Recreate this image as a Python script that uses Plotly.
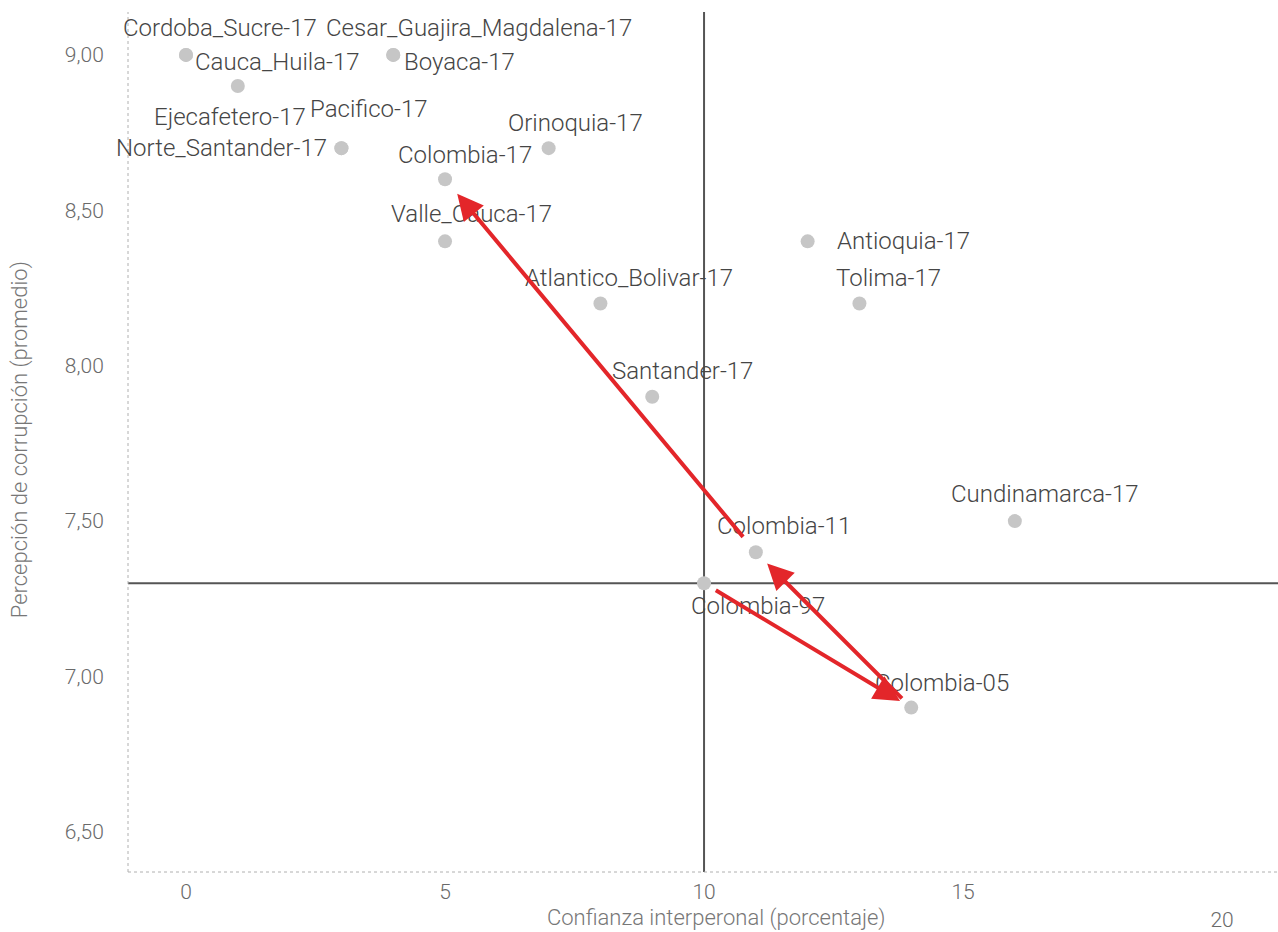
import plotly.graph_objects as go

# ---- data ----
names = ["Cordoba_Sucre-17", "Cesar_Guajira_Magdalena-17", "Cauca_Huila-17", "Boyaca-17",
         "Ejecafetero-17", "Pacifico-17", "Norte_Santander-17", "Orinoquia-17", "Colombia-17",
         "Valle_Cauca-17", "Antioquia-17", "Atlantico_Bolivar-17", "Tolima-17", "Santander-17",
         "Cundinamarca-17", "Colombia-11", "Colombia-97", "Colombia-05"]
confianza = [0, 4, 0, 4, 1, 3, 3, 7, 5, 5, 12, 8, 13, 9, 16, 11, 10, 14]
corrupcion = [9.0, 9.0, 9.0, 9.0, 8.9, 8.7, 8.7, 8.7, 8.6, 8.4, 8.4, 8.2, 8.2, 7.9, 7.5, 7.4, 7.3, 6.9]

x_ticks = [0, 5, 10, 15, 20]
x_ticktext = ["0", "5", "10", "15", "<br>20"]
y_ticks = [6.5, 7.0, 7.5, 8.0, 8.5, 9.0]
y_ticktext = ["6,50", "7,00", "7,50", "8,00", "8,50", "9,00"]

# trajectory of Colombia over time
path = ["Colombia-97", "Colombia-05", "Colombia-11", "Colombia-17"]

x_ref, y_ref = 10, 7.3  # quadrant dividers

# ---- label styling (pixel offsets, anchor) ----
label_style = {
    "Cordoba_Sucre-17": (34, 27, "center"),
    "Cesar_Guajira_Magdalena-17": (86, 27, "center"),
    "Cauca_Huila-17": (7, -7, "left"),
    "Boyaca-17": (9, -7, "left"),
    "Ejecafetero-17": (-8, -31, "center"),
    "Pacifico-17": (28, 39, "center"),
    "Norte_Santander-17": (-12, 0, "right"),
    "Orinoquia-17": (27, 25, "center"),
    "Colombia-17": (20, 24, "center"),
    "Valle_Cauca-17": (26, 27, "center"),
    "Antioquia-17": (27, 0, "left"),
    "Atlantico_Bolivar-17": (29, 26, "center"),
    "Tolima-17": (29, 26, "center"),
    "Santander-17": (30, 26, "center"),
    "Cundinamarca-17": (30, 27, "center"),
    "Colombia-11": (28, 26, "center"),
    "Colombia-97": (54, -23, "center"),
    "Colombia-05": (31, 25, "center"),
}
arrow_standoff = [(12, 13), (11, 16), (18, 19)]  # (start, end) in px

FONT = "Roboto, DejaVu Sans, sans-serif"

fig = go.Figure()
fig.add_trace(go.Scatter(
    x=confianza, y=corrupcion, mode="markers",
    marker=dict(size=14, color="#c6c6c6"),
    hoverinfo="text", text=names, showlegend=False,
))

annotations = []
for n, xv, yv in zip(names, confianza, corrupcion):
    dx, dy, anchor = label_style[n]
    annotations.append(dict(
        x=xv, y=yv, xref="x", yref="y", text=n, showarrow=False,
        xshift=dx, yshift=dy, xanchor=anchor, yanchor="middle",
        font=dict(family=FONT, size=24, color="#454545", weight=300),
    ))

idx = {n: i for i, n in enumerate(names)}
for k in range(len(path) - 1):
    a, b = idx[path[k]], idx[path[k + 1]]
    s0, s1 = arrow_standoff[k]
    annotations.append(dict(
        x=confianza[b], y=corrupcion[b], ax=confianza[a], ay=corrupcion[a],
        xref="x", yref="y", axref="x", ayref="y", text="",
        showarrow=True, arrowhead=2, arrowsize=1.3, arrowwidth=4,
        arrowcolor="#e3262a", standoff=s1, startstandoff=s0,
    ))

# axis titles
annotations.append(dict(
    x=(716 - 128) / 1150, y=-46 / 860, xref="paper", yref="paper",
    text="Confianza interperonal (porcentaje)", showarrow=False,
    xanchor="center", yanchor="middle",
    font=dict(family=FONT, size=22, color="#777777", weight=300),
))
annotations.append(dict(
    x=-108 / 1150, y=0.502, xref="paper", yref="paper",
    text="Percepción de corrupción (promedio)", showarrow=False, textangle=-90,
    xanchor="center", yanchor="middle",
    font=dict(family=FONT, size=22, color="#777777", weight=300),
))

shapes = [
    dict(type="line", xref="x", yref="paper", x0=x_ref, x1=x_ref, y0=0, y1=1,
         line=dict(color="#555555", width=2), layer="below"),
    dict(type="line", xref="paper", yref="y", x0=0, x1=1, y0=y_ref, y1=y_ref,
         line=dict(color="#555555", width=2), layer="below"),
    dict(type="line", xref="paper", yref="paper", x0=0, x1=0, y0=0, y1=1,
         line=dict(color="#b0b0b0", width=1, dash="dot"), layer="below"),
    dict(type="line", xref="paper", yref="paper", x0=0, x1=1, y0=0, y1=0,
         line=dict(color="#b0b0b0", width=1, dash="dot"), layer="below"),
]

fig.update_layout(
    width=1278, height=932,
    margin=dict(l=128, r=0, t=12, b=60, autoexpand=False),
    plot_bgcolor="white", paper_bgcolor="white",
    font=dict(family=FONT),
    annotations=annotations, shapes=shapes,
    xaxis=dict(range=[-1.12, 21.08], tickvals=x_ticks, ticktext=x_ticktext,
               showgrid=False, zeroline=False, showline=False, automargin=False,
               ticks="outside", ticklen=1, tickcolor="rgba(0,0,0,0)",
               tickfont=dict(family=FONT, size=21, color="#6a6a6a", weight=300)),
    yaxis=dict(range=[6.371, 9.138], tickvals=y_ticks, ticktext=y_ticktext,
               showgrid=False, zeroline=False, showline=False, automargin=False,
               ticks="outside", ticklen=19, tickcolor="rgba(0,0,0,0)",
               tickfont=dict(family=FONT, size=21, color="#6a6a6a", weight=300)),
)

fig.write_html("out.html", config={"displayModeBar": False},
               post_script="document.body.style.margin='0';document.body.style.overflow='hidden';")
